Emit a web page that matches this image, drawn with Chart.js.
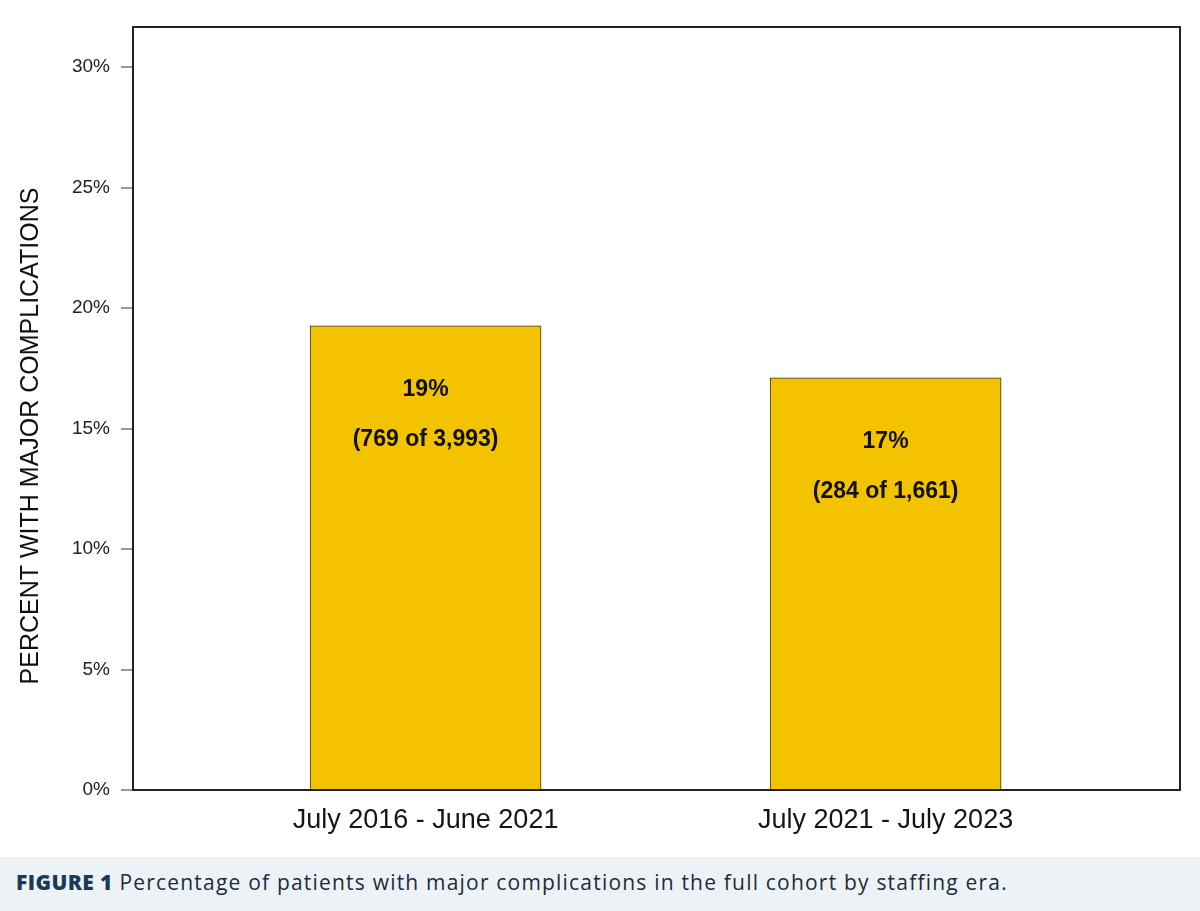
<!DOCTYPE html>
<html>
<head>
<meta charset="utf-8">
<script src="https://cdn.jsdelivr.net/npm/chart.js@4"></script>
<style>
  html, body { margin: 0; padding: 0; background: #fff; }
  #wrap { width: 1200px; height: 857px; position: relative; }
  #caption {
    width: 1200px; height: 54px; box-sizing: border-box;
    background: #edf2f7; padding: 11px 0 0 16px;
    font-family: 'Open Sans', sans-serif; font-size: 21px; letter-spacing: 1.2px;
    color: #1e2b3a; white-space: nowrap;
  }
  #caption b { color: #1b3a57; font-weight: 800; letter-spacing: 0.4px; }
</style>
</head>
<body>
<div id="wrap"><canvas id="chart"></canvas></div>
<div id="caption"><b>FIGURE 1</b> Percentage of patients with major complications in the full cohort by staffing era.</div>
<script>
// Staffing eras and share of patients with major complications (%)
var eras = ['July 2016 - June 2021', 'July 2021 - July 2023'];
var eraPos = [1, 2];
var percentValues = [19.26, 17.10];
var percentLabels = ['19%', '17%'];
var countLabels = ['(769 of 3,993)', '(284 of 1,661)'];
var yTicks = [0, 5, 10, 15, 20, 25, 30];

var FONT = "'Liberation Sans', Arial, sans-serif";

// Frame around plot area + bar annotations + rotated y title
var decorPlugin = {
  id: 'decor',
  afterDatasetsDraw: function(chart) {
    var ctx = chart.ctx;
    var meta = chart.getDatasetMeta(0);
    ctx.save();
    ctx.fillStyle = '#111';
    ctx.font = 'bold 23px ' + FONT;
    ctx.textAlign = 'center';
    ctx.textBaseline = 'middle';
    meta.data.forEach(function(bar, i) {
      ctx.fillText(percentLabels[i], bar.x, bar.y + 64);
      ctx.fillText(countLabels[i], bar.x, bar.y + 114);
    });
    ctx.restore();
  },
  afterDraw: function(chart) {
    var ctx = chart.ctx;
    var a = chart.chartArea;
    ctx.save();
    ctx.strokeStyle = '#222';
    ctx.lineWidth = 2;
    ctx.strokeRect(a.left, a.top, a.right - a.left, a.bottom - a.top);

    ctx.translate(31, 436);
    ctx.rotate(-Math.PI / 2);
    ctx.fillStyle = '#111';
    ctx.font = '25px ' + FONT;
    ctx.textAlign = 'center';
    ctx.textBaseline = 'middle';
    ctx.fillText('PERCENT WITH MAJOR COMPLICATIONS', 0, 0);
    ctx.restore();
  }
};

var data = eraPos.map(function(x, i) { return { x: x, y: percentValues[i] }; });

new Chart(document.getElementById('chart'), {
  type: 'bar',
  data: {
    datasets: [{
      data: data,
      backgroundColor: '#F4C300',
      borderColor: '#3a3320',
      borderWidth: 1,
      barThickness: 231
    }]
  },
  options: {
    responsive: true,
    maintainAspectRatio: false,
    animation: false,
    layout: { padding: { left: 0, top: 27, right: 20, bottom: 0 } },
    plugins: { legend: { display: false }, tooltip: { enabled: false } },
    scales: {
      x: {
        type: 'linear',
        offset: false,
        min: 0.364,
        max: 2.64,
        afterBuildTicks: function(scale) {
          scale.ticks = eraPos.map(function(v) { return { value: v }; });
        },
        afterFit: function(scale) { scale.height = 67; },
        grid: { display: false, offset: false },
        border: { display: false },
        ticks: {
          color: '#151515',
          font: { family: FONT, size: 27 },
          padding: 6,
          maxRotation: 0,
          callback: function(v) {
            var idx = eraPos.indexOf(v);
            return idx >= 0 ? eras[idx] : '';
          }
        }
      },
      y: {
        min: 0,
        max: 31.66,
        afterBuildTicks: function(scale) {
          scale.ticks = yTicks.map(function(v) { return { value: v }; });
        },
        afterFit: function(scale) { scale.width = 133; },
        grid: { drawOnChartArea: false, drawTicks: true, tickLength: 12, color: '#999', lineWidth: 2 },
        border: { display: false },
        ticks: {
          color: '#222',
          font: { family: FONT, size: 19 },
          padding: 11,
          callback: function(v) { return v + '%'; }
        }
      }
    }
  },
  plugins: [decorPlugin]
});
</script>
</body>
</html>
